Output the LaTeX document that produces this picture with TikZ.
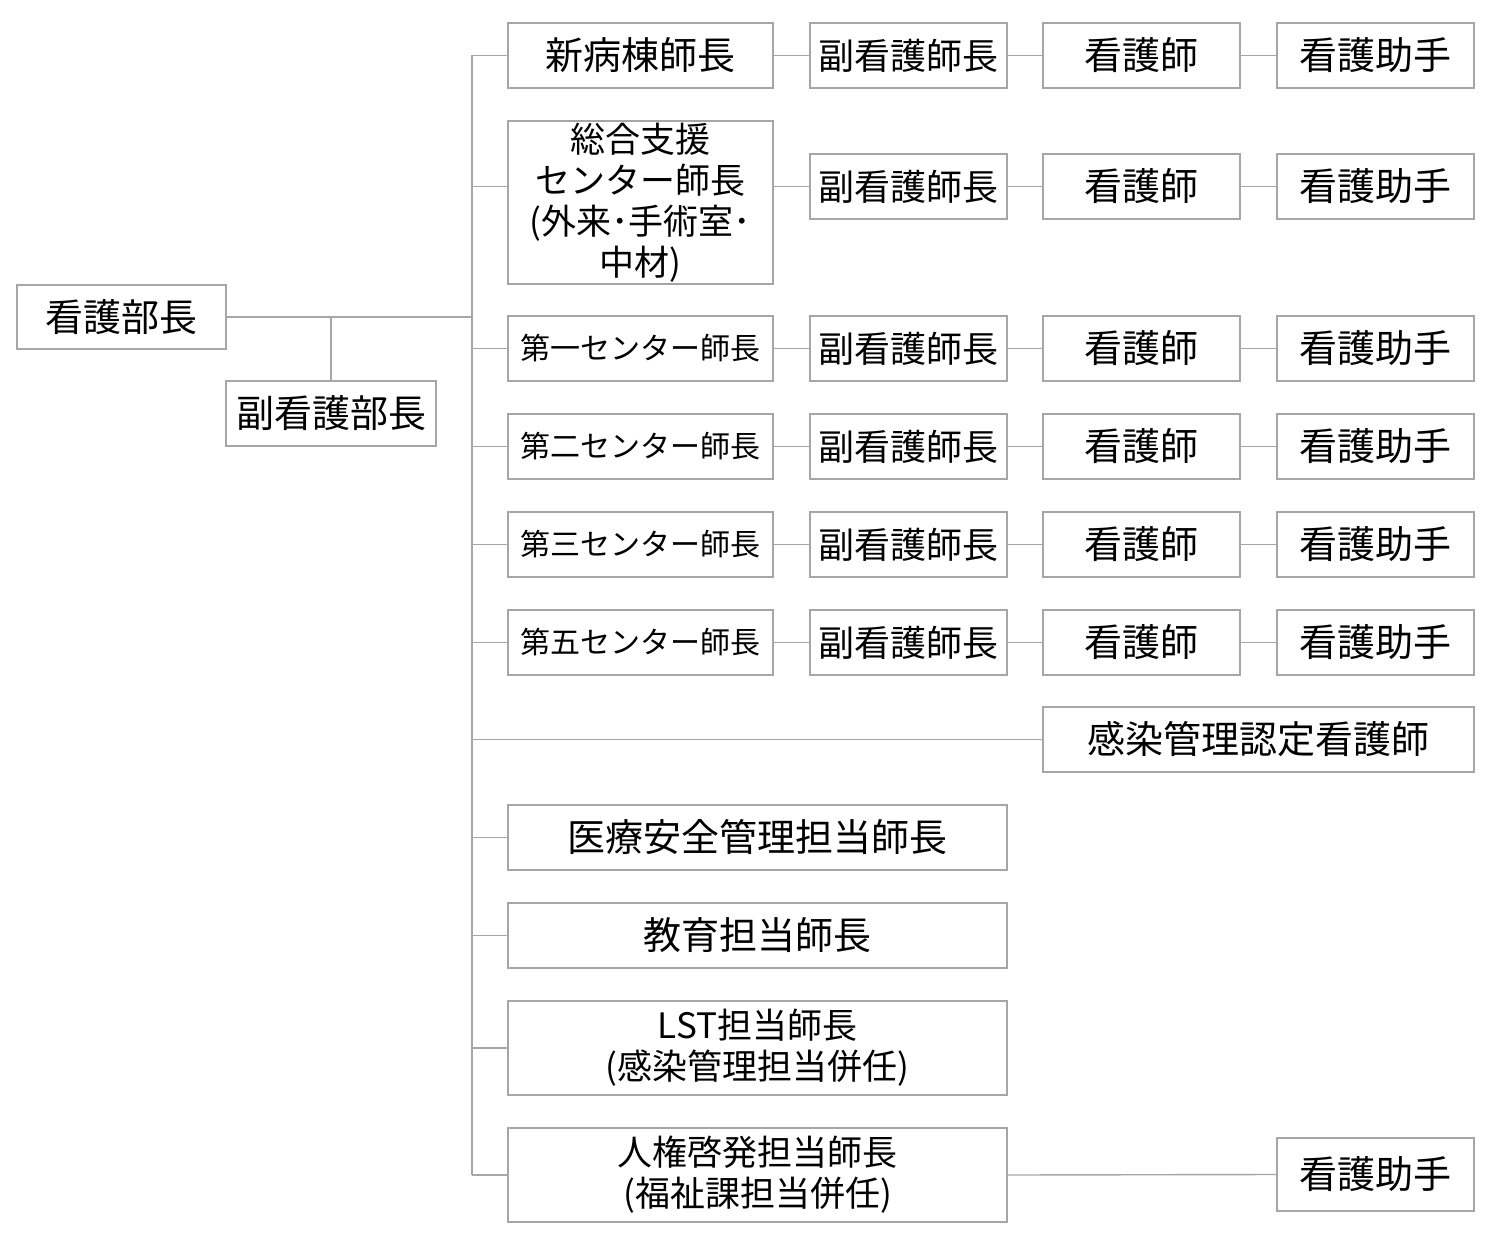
\documentclass[tikz,border=0pt]{standalone}
\usepackage{fontspec}
\setmainfont{Noto Sans CJK JP}
\definecolor{linegray}{RGB}{166,166,166}
\begin{document}
\begin{tikzpicture}[x=0.5pt,y=-0.5pt,
  box/.style={draw=linegray,line width=0.7pt,rectangle,inner sep=0pt,align=center,font=\fontsize{19}{22}\selectfont},
  smallbox/.style={box,font=\fontsize{15}{18}\selectfont},
  multibox/.style={box,font=\fontsize{17.5}{20.5}\selectfont},
  conn/.style={draw=linegray,line width=0.7pt}]
\useasboundingbox[fill=white] (0,0) rectangle (1500,1247);
% helper: box from (l,t) to (r,b)
\newcommand{\pbox}[7]{\node[#1,minimum width={(#4-#2)*0.5pt},minimum height={(#5-#3)*0.5pt}] (#6) at ({(#2+#4)/2},{(#3+#5)/2}) {#7};}
\pbox{box}{17}{285}{226}{349}{head}{看護部長}
\pbox{box}{226}{381}{436}{446}{vhead}{副看護部長}
\coordinate (trunkTop) at (472,55.5);
\coordinate (trunkBot) at (472,1175);
\coordinate (split) at (331,317);
\draw[conn] (head.east) -- (472,317);
\draw[conn] (split) -- (vhead.north);
\draw[conn] (trunkTop) -- (trunkBot);
% column 1
\pbox{box}{508}{23}{773}{88}{c1a}{新病棟師長}
\pbox{multibox}{508}{121}{773}{284}{c1b}{総合支援\\センター師長\\(外来･手術室･\\中材)}
\pbox{smallbox}{508}{316}{773}{381}{c1c}{第一センター師長}
\pbox{smallbox}{508}{414}{773}{479}{c1d}{第二センター師長}
\pbox{smallbox}{508}{512}{773}{577}{c1e}{第三センター師長}
\pbox{smallbox}{508}{610}{773}{675}{c1f}{第五センター師長}
% rows
\foreach \r/\t/\b in {a/23/88, b/154/219, c/316/381, d/414/479, e/512/577, f/610/675}{
  \pbox{box,font=\fontsize{18}{21}\selectfont}{810}{\t}{1007}{\b}{c2\r}{副看護師長}
  \pbox{box}{1043}{\t}{1240}{\b}{c3\r}{看護師}
  \pbox{box}{1277}{\t}{1474}{\b}{c4\r}{看護助手}
  \draw[conn] (c1\r.east |- c2\r.west) -- (c2\r.west);
  \draw[conn] (c2\r.east) -- (c3\r.west);
  \draw[conn] (c3\r.east) -- (c4\r.west);
  \draw[conn] (trunkTop |- c2\r.west) -- (c1\r.west |- c2\r.west);
}
\pbox{box}{1043}{707}{1474}{772}{ic}{感染管理認定看護師}
\draw[conn] (trunkTop |- ic.west) -- (ic.west);
\pbox{box}{508}{805}{1007}{870}{safe}{医療安全管理担当師長}
\pbox{box}{508}{903}{1007}{968}{edu}{教育担当師長}
\pbox{multibox}{508}{1001}{1007}{1095}{lst}{LST担当師長\\(感染管理担当併任)}
\pbox{multibox}{508}{1128}{1007}{1222}{hr}{人権啓発担当師長\\(福祉課担当併任)}
\pbox{box}{1277}{1138}{1474}{1211}{aide}{看護助手}
\draw[conn] (trunkTop |- safe.west) -- (safe.west);
\draw[conn] (trunkTop |- edu.west) -- (edu.west);
\draw[conn] (trunkTop |- lst.west) -- (lst.west);
\draw[conn] (trunkTop |- hr.west) -- (hr.west);
\draw[conn] (hr.east) -- (aide.west);
\end{tikzpicture}
\end{document}
